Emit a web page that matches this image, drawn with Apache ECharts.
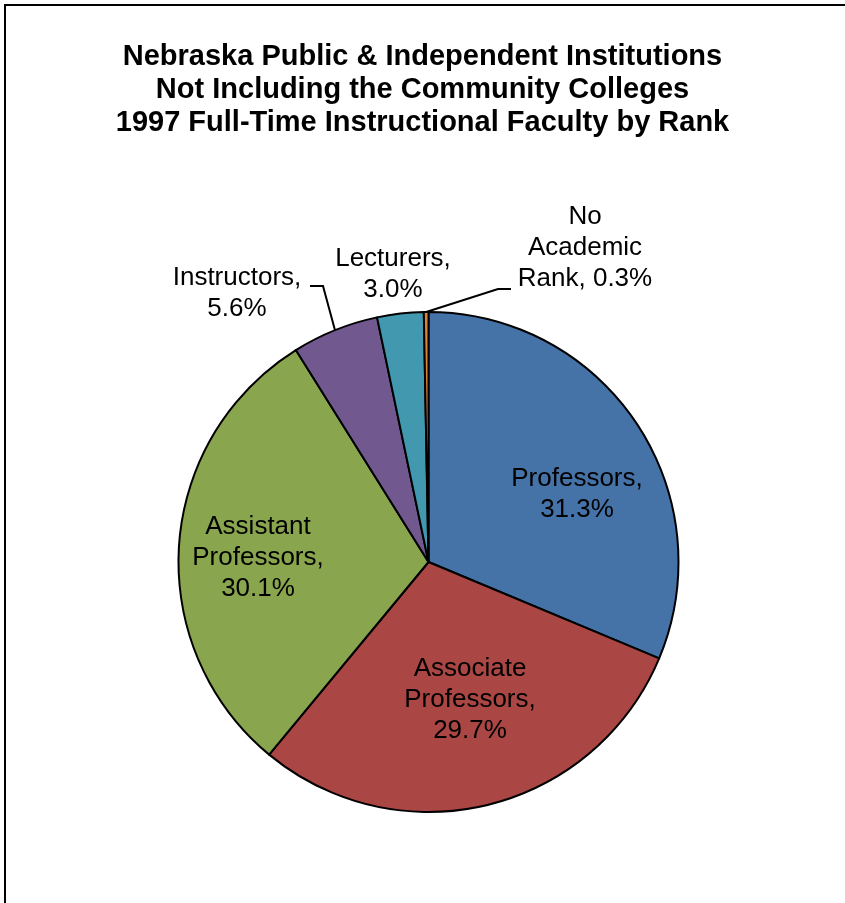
<!DOCTYPE html>
<html>
<head>
<meta charset="utf-8">
<script src="https://cdn.jsdelivr.net/npm/echarts@6/dist/echarts.min.js"></script>
<style>
  html, body { margin: 0; padding: 0; background: #fff; }
  #chart { position: absolute; left: 0; top: 0; width: 845px; height: 903px; }
</style>
</head>
<body>
<div id="chart"></div>
<script>
// ---- data ----
const titleLines = [
  'Nebraska Public & Independent Institutions',
  'Not Including the Community Colleges',
  '1997 Full-Time Instructional Faculty by Rank'
];
const categories = ['Professors', 'Associate Professors', 'Assistant Professors', 'Instructors', 'Lecturers', 'No Academic Rank'];
const percents = [31.3, 29.7, 30.1, 5.6, 3.0, 0.3];
const labelTexts = [
  'Professors,\n31.3%',
  'Associate\nProfessors,\n29.7%',
  'Assistant\nProfessors,\n30.1%',
  'Instructors,\n5.6%',
  'Lecturers,\n3.0%',
  'No\nAcademic\nRank, 0.3%'
];
const colors = ['#4572A7', '#AA4643', '#89A54E', '#71588F', '#4198AF', '#DB843D'];

// ---- layout (label placement, not data) ----
const labelPos = [
  [577, 494],
  [470, 700],
  [258, 558],
  [237, 293],
  [393, 274],
  [585, 248]
];
// leader line bends / ends for labels that have a leader
const leaders = {
  3: [[323, 286], [310, 286]],
  5: [[498, 289], [511, 289]]
};

const chart = echarts.init(document.getElementById('chart'), null, { renderer: 'canvas' });
const FONT = '"Liberation Sans", Arial, sans-serif';

const seriesData = categories.map((c, i) => ({
  name: c,
  value: percents[i],
  itemStyle: { color: colors[i] },
  label: { position: i >= 3 ? 'outside' : 'inside' },
  labelLine: { show: leaders[i] !== undefined }
}));

chart.setOption({
  animation: false,
  backgroundColor: '#ffffff',
  title: {
    text: titleLines.join('\n'),
    left: 'center',
    top: 35,
    textStyle: {
      fontFamily: FONT,
      fontSize: 29,
      fontWeight: 'bold',
      color: '#000',
      lineHeight: 33
    }
  },
  graphic: [{
    type: 'rect',
    shape: { x: 5, y: 5, width: 1000, height: 1000 },
    style: { fill: 'none', stroke: '#000', lineWidth: 2 },
    silent: true,
    z: 100
  }],
  series: [{
    type: 'pie',
    center: [428.5, 562],
    radius: [0, 250],
    startAngle: 90,
    clockwise: true,
    avoidLabelOverlap: false,
    itemStyle: { borderColor: '#000', borderWidth: 2 },
    emphasis: { disabled: true },
    label: {
      show: true,
      fontFamily: FONT,
      fontSize: 26,
      color: '#000',
      lineHeight: 31,
      align: 'center',
      formatter: p => labelTexts[p.dataIndex]
    },
    labelLine: {
      show: true,
      length: 10,
      length2: 10,
      smooth: false,
      lineStyle: { color: '#000', width: 2 }
    },
    labelLayout: function (params) {
      const i = params.dataIndex;
      const out = {
        x: labelPos[i][0],
        y: labelPos[i][1],
        align: 'center',
        verticalAlign: 'middle'
      };
      if (leaders[i] && params.labelLinePoints) {
        const anchor = params.labelLinePoints[0];
        out.labelLinePoints = [anchor].concat(leaders[i]);
      }
      return out;
    },
    data: seriesData
  }]
});
</script>
</body>
</html>
